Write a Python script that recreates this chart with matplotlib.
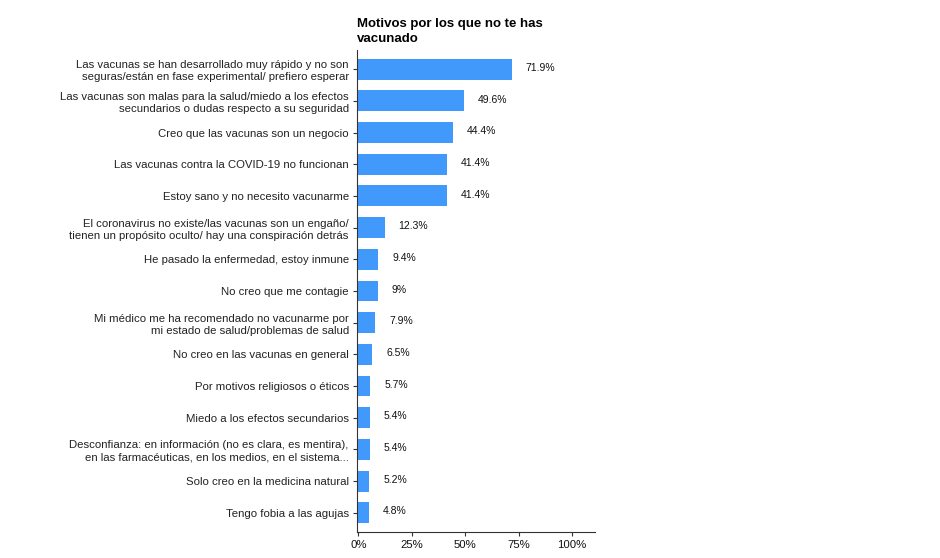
import matplotlib.pyplot as plt

plt.rcParams['font.family'] = ['Liberation Sans', 'DejaVu Sans']

# Data (top to bottom as shown)
motivos = [
    'Las vacunas se han desarrollado muy rápido y no son\nseguras/están en fase experimental/ prefiero esperar',
    'Las vacunas son malas para la salud/miedo a los efectos\nsecundarios o dudas respecto a su seguridad',
    'Creo que las vacunas son un negocio',
    'Las vacunas contra la COVID-19 no funcionan',
    'Estoy sano y no necesito vacunarme',
    'El coronavirus no existe/las vacunas son un engaño/\ntienen un propósito oculto/ hay una conspiración detrás',
    'He pasado la enfermedad, estoy inmune',
    'No creo que me contagie',
    'Mi médico me ha recomendado no vacunarme por\nmi estado de salud/problemas de salud',
    'No creo en las vacunas en general',
    'Por motivos religiosos o éticos',
    'Miedo a los efectos secundarios',
    'Desconfianza: en información (no es clara, es mentira),\nen las farmacéuticas, en los medios, en el sistema...',
    'Solo creo en la medicina natural',
    'Tengo fobia a las agujas',
]
porcentajes = [71.9, 49.6, 44.4, 41.4, 41.4, 12.3, 9.4, 9.0, 7.9, 6.5, 5.7, 5.4, 5.4, 5.2, 4.8]
etiquetas = ['71.9%', '49.6%', '44.4%', '41.4%', '41.4%', '12.3%', '9.4%', '9%',
             '7.9%', '6.5%', '5.7%', '5.4%', '5.4%', '5.2%', '4.8%']
ticks_x = [0, 25, 50, 75, 100]
ticks_x_labels = ['0%', '25%', '50%', '75%', '100%']

fig = plt.figure(figsize=(9.4, 5.58), dpi=100)
ax = fig.add_axes([0.380, 0.047, 0.253, 0.863])

pos = list(range(len(motivos)))
bars = ax.barh(pos, porcentajes, height=0.66, color='#4199fc', edgecolor='none')

for b, lab in zip(bars, etiquetas):
    ax.annotate(lab, (b.get_width(), b.get_y() + b.get_height() / 2),
                xytext=(10, 1), textcoords='offset points',
                ha='left', va='center', fontsize=7.5, color='#111111')

ax.set_yticks(pos)
ax.set_yticklabels(motivos, fontsize=8.2, color='#222222', linespacing=1.25)
ax.set_ylim(len(motivos) - 0.4, -0.6)
ax.set_xlim(-0.5, 110.7)
ax.set_xticks(ticks_x)
ax.set_xticklabels(ticks_x_labels, fontsize=8.2, color='#111111')

ax.spines['top'].set_visible(False)
ax.spines['right'].set_visible(False)
ax.spines['left'].set_color('#333333')
ax.spines['bottom'].set_color('#333333')
ax.tick_params(axis='y', length=3, pad=3, color='#333333')
ax.tick_params(axis='x', length=3, pad=3, color='#333333')

fig.text(0.380, 0.968, 'Motivos por los que no te has\nvacunado', fontsize=9.5,
         fontweight='bold', ha='left', va='top', linespacing=1.3)

fig.savefig('out.png', dpi=100)
